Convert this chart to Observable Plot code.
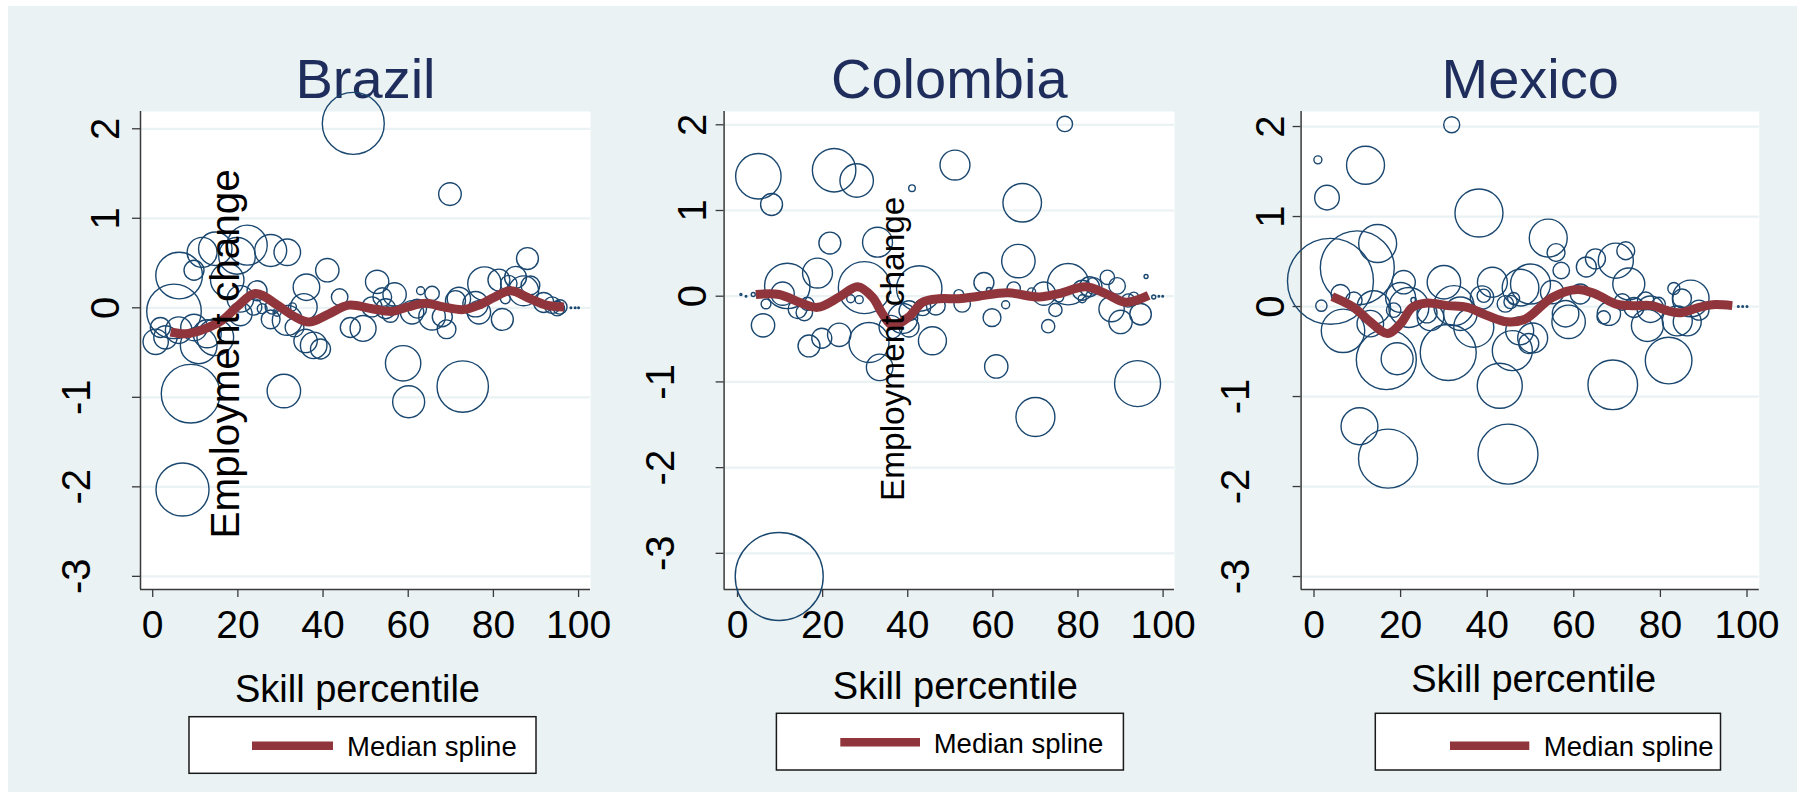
<!DOCTYPE html>
<html>
<head>
<meta charset="utf-8">
<script src="https://cdn.jsdelivr.net/npm/d3@7"></script>
<script src="https://cdn.jsdelivr.net/npm/@observablehq/plot@0.6"></script>
<style>
  html, body { margin: 0; padding: 0; background: #ffffff; }
  #root { position: relative; width: 1803px; height: 796px; overflow: hidden; background: #ffffff; font-family: "Liberation Sans", Arial, sans-serif; }
  #bg { position: absolute; left: 8px; top: 6px; width: 1789px; height: 786px; background: #EAF2F3; }
  .panel { position: absolute; }
  .legend { position: absolute; left: 0; top: 0; overflow: visible; }
</style>
</head>
<body>
<div id="root"><div id="bg"></div></div>
<script>
// ---------------- data ----------------
const countries = ["Brazil", "Colombia", "Mexico"];
const xTicks = [0, 20, 40, 60, 80, 100];
const yTicks = [-3, -2, -1, 0, 1, 2];
const xTitle = "Skill percentile";
const yTitle = "Employment change";
const legendLabel = "Median spline";

// Brazil occupations: skill percentile, employment change, employment weight
const brazilSkill = [47.1, 69.8, 88.0, 58.8, 60.1, 72.8, 8.9, 30.8, 7.0, 6.2, 5.0, 11.6, 14.7, 9.7, 22.2, 19.8, 27.7, 31.6, 17.5, 20.6, 24.5, 1.8, 0.7, 3.0, 6.1, 9.7, 12.8, 10.8, 14.7, 20.6, 23.7, 28.1, 27.7, 32.8, 31.6, 33.3, 36.1, 41.0, 43.9, 35.5, 46.4, 37.8, 39.4, 35.9, 25.7, 29.2, 49.4, 52.7, 53.9, 56.8, 54.7, 51.5, 55.8, 60.9, 62.1, 62.9, 65.6, 68.0, 69.0, 71.9, 71.1, 75.8, 76.6, 77.9, 81.3, 82.1, 85.2, 83.6, 87.1, 88.7, 82.8, 91.8, 93.8, 95.6, 95.0, 65.6, 98.2, 99.2, 100];
const brazilChange = [2.06, 1.27, 0.55, -0.62, -1.05, -0.88, -0.96, -0.93, -2.03, 0.36, -0.04, 0.62, 0.66, 0.42, 0.70, 0.58, 0.64, 0.62, 0.31, 0.10, 0.19, -0.22, -0.38, -0.33, -0.25, -0.22, -0.29, -0.42, -0.33, -0.07, 0.01, 0.01, -0.13, 0.01, -0.14, -0.22, 0.23, 0.42, 0.12, 0.01, -0.22, -0.42, -0.46, -0.37, -0.01, -0.05, -0.23, 0.29, 0.12, 0.15, -0.01, 0.01, -0.07, -0.05, -0.01, 0.19, 0.16, -0.10, -0.24, 0.10, 0.08, 0.04, -0.05, 0.27, 0.31, -0.13, 0.34, 0.27, 0.19, 0.25, 0.10, 0.06, 0.03, 0.01, -0.01, -0.10, 0, 0, 0];
const brazilWeight = [240, 32, 30, 78, 64, 165, 215, 70, 176, 136, 186, 56, 70, 25, 100, 84, 64, 44, 70, 44, 25, 25, 40, 34, 44, 44, 49, 84, 84, 34, 17, 13, 22, 4, 56, 22, 44, 34, 17, 44, 25, 44, 25, 34, 6, 4, 42, 34, 22, 34, 25, 25, 17, 34, 22, 4, 13, 25, 22, 34, 25, 40, 34, 70, 30, 30, 30, 17, 56, 22, 6, 25, 17, 13, 13, 44, 0.16, 0.16, 0.16];
const brazilSplineX = [4.2, 7.9, 12, 16.3, 20, 24.1, 29.3, 33, 36.7, 41.3, 46.0, 51.5, 56.2, 59.9, 64.1, 68.3, 72.9, 76.6, 80.3, 84.0, 88.7, 92.4, 96.6];
const brazilSplineY = [-0.27, -0.29, -0.24, -0.14, 0.02, 0.16, 0.03, -0.09, -0.16, -0.07, 0.03, -0.01, -0.04, 0.01, 0.05, 0.01, -0.02, 0.03, 0.12, 0.19, 0.10, 0.03, 0.01];

// Colombia
const colombiaSkill = [4.9, 8.0, 22.7, 28.0, 41.0, 51.1, 21.7, 32.9, 11.7, 18.8, 10.6, 29.8, 42.7, 6.0, 16.8, 19.8, 23.9, 30.9, 33.4, 14.1, 15.7, 16.4, 6.7, 26.6, 28.6, 0.8, 2.0, 3.7, 38.8, 40.3, 36.0, 45.8, 46.6, 40.3, 43.5, 9.8, 70.0, 94.0, 60.8, 66.9, 66.0, 76.9, 57.9, 52.0, 52.8, 55.0, 59.1, 59.8, 63.0, 64.9, 69.1, 72.0, 74.7, 73.0, 75.5, 77.7, 81.0, 82.7, 83.7, 81.0, 86.9, 89.2, 87.9, 90.0, 94.7, 91.8, 93.1, 96.0, 97.8, 99.0, 99.9];
const colombiaChange = [1.40, 1.07, 1.47, 1.35, 1.26, 1.53, 0.62, 0.63, 0.12, 0.27, 0.03, 0.10, 0.09, -0.34, -0.58, -0.49, -0.45, -0.54, -0.83, -0.15, -0.19, -0.09, -0.09, -0.03, -0.04, 0.02, 0.0, 0.02, -0.26, -0.36, -0.36, -0.52, -0.11, -0.17, -0.13, -3.27, -1.41, -1.02, -0.82, 1.09, 0.41, 2.01, 0.16, 0.02, -0.09, 0.0, 0.07, -0.25, -0.10, 0.09, 0.05, 0.03, -0.16, -0.35, -0.01, 0.14, 0.07, 0.11, 0.12, -0.03, 0.22, 0.12, -0.15, -0.30, -0.21, -0.05, -0.01, 0.23, -0.01, 0, 0];
const colombiaWeight = [129, 30, 118, 70, 2.7, 56, 30, 56, 129, 56, 34, 169, 129, 34, 30, 25, 34, 100, 44, 22, 17, 11, 6, 4, 4, 0.25, 0.16, 1, 56, 25, 34, 49, 22, 25, 17, 484, 95, 132, 34, 93, 70, 15, 25, 6, 17, 1, 1.8, 20, 4, 11, 4, 34, 11, 11, 6, 107, 25, 25, 17, 4, 13, 17, 40, 34, 29, 11, 6, 1, 1, 0.16, 0.16];
const colombiaSplineX = [4.3, 9.8, 14.5, 18.8, 23.9, 28.2, 31.7, 34.0, 36.4, 40.3, 43.5, 47.4, 52.0, 56.7, 63.4, 70.8, 75.5, 81.8, 86.5, 91.2, 96.6];
const colombiaSplineY = [0.02, 0.02, -0.07, -0.13, -0.01, 0.11, -0.01, -0.20, -0.34, -0.24, -0.07, -0.03, -0.03, 0.0, 0.04, -0.01, 0.03, 0.11, 0.03, -0.07, 0.01];

// Mexico
const mexicoSkill = [0.9, 11.9, 3.0, 38.1, 31.8, 3.8, 10.0, 14.7, 1.7, 6.7, 6.1, 9.2, 13.8, 13.0, 16.7, 19.2, 20.7, 20.0, 18.4, 23.0, 21.9, 26.1, 26.9, 30.0, 31.0, 32.3, 33.8, 38.8, 41.2, 36.9, 42.9, 45.4, 45.8, 47.7, 10.5, 17.1, 44.8, 69.0, 39.2, 44.2, 46.1, 49.6, 54.1, 55.9, 57.1, 50.0, 55.0, 62.9, 65.0, 69.7, 72.0, 72.7, 61.5, 58.8, 58.1, 68.1, 66.9, 71.2, 73.9, 76.6, 77.0, 77.7, 79.6, 81.9, 83.1, 85.0, 87.0, 83.9, 86.2, 88.9, 50.5, 47.5, 98.0, 99.0, 100];
const mexicoChange = [1.63, 1.57, 1.21, 1.04, 2.02, 0.28, 0.43, 0.70, 0.01, -0.27, 0.14, 0.07, -0.01, -0.19, -0.59, -0.58, 0.27, 0.10, -0.04, 0.07, -0.01, -0.07, -0.12, 0.27, -0.51, 0.01, -0.08, 0.10, 0.27, -0.23, -0.88, 0.05, -0.49, 0.21, -1.33, -1.69, -1.64, -0.87, 0.12, 0.03, 0.09, -0.41, 0.76, 0.60, 0.40, 0.25, 0.16, 0.44, 0.53, 0.51, 0.62, 0.25, 0.14, -0.17, -0.08, -0.08, -0.12, 0.05, -0.01, 0.07, -0.21, -0.03, 0.03, -0.60, 0.20, 0.09, 0.09, -0.16, -0.17, -0.04, -0.35, -0.27, 0, 0, 0];
const mexicoWeight = [4, 90, 38, 144, 16, 462, 342, 90, 8, 118, 22, 17, 70, 44, 225, 64, 34, 56, 13, 1.8, 100, 25, 44, 70, 196, 100, 70, 34, 56, 100, 127, 11, 100, 84, 85, 218, 225, 154, 11, 17, 9, 25, 90, 20, 17, 100, 34, 25, 25, 77, 20, 64, 25, 70, 44, 34, 11, 17, 25, 17, 64, 44, 11, 136, 9, 22, 84, 56, 49, 25, 56, 49, 0.16, 0.16, 0.16];
const mexicoSplineX = [4.2, 9.2, 13.0, 17.0, 20.0, 22.7, 26.1, 30.8, 35.4, 40.0, 44.6, 48.8, 55.0, 60.8, 65.0, 69.6, 73.5, 78.1, 81.2, 84.3, 88.9, 92.0, 96.6];
const mexicoSplineY = [0.11, -0.01, -0.17, -0.30, -0.19, -0.01, 0.04, 0.01, -0.01, -0.10, -0.17, -0.14, 0.10, 0.19, 0.14, 0.03, 0.01, 0.01, -0.04, -0.07, -0.01, 0.02, 0.01];

// ---------------- styling ----------------
const BG = "#EAF2F3", NAVY = "#1A476F", MAROON = "#90353B", TITLE = "#1E2D5C", AXIS = "#3a3a3a";
const FONT = '"Liberation Sans", Arial, sans-serif';

const panels = [
  { name: countries[0], skill: brazilSkill, change: brazilChange, weight: brazilWeight, sx: brazilSplineX, sy: brazilSplineY,
    left: 20, width: 600, mL: 120, mR: 30, xDom: [-2.865, 102.8], yDom: [-3.147, 2.193],
    posDx: -21.4, negDx: -51, xlabDx: -8, xlabDy: 112.7, ytitle: { dx: 98, dy: 3.3, size: 40.5 },
    legend: { x: 189, y: 716.7, w: 347, h: 56.6, l1: 252, l2: 333, ly: 745.7, tx: 347, ty: 755.7 } },
  { name: countries[1], skill: colombiaSkill, change: colombiaChange, weight: colombiaWeight, sx: colombiaSplineX, sy: colombiaSplineY,
    left: 610, width: 590, mL: 113.6, mR: 26, xDom: [-3.15, 102.68], yDom: [-3.422, 2.155],
    posDx: -18.6, negDx: -50, xlabDx: 6, xlabDy: 109.3, ytitle: { dx: 180, dy: -1.7, size: 33.4 },
    legend: { x: 776.4, y: 713.3, w: 347, h: 56.7, l1: 840.3, l2: 920, ly: 742.3, tx: 933.7, ty: 752.7 } },
  { name: countries[2], skill: mexicoSkill, change: mexicoChange, weight: mexicoWeight, sx: mexicoSplineX, sy: mexicoSplineY,
    left: 1190, width: 600, mL: 110.6, mR: 31.2, xDom: [-2.98, 102.84], yDom: [-3.144, 2.167],
    posDx: -16.8, negDx: -52, xlabDx: 3.5, xlabDy: 102.7, ytitle: null,
    legend: { x: 1375.3, y: 713.3, w: 345.2, h: 56.7, l1: 1450, l2: 1529.3, ly: 745.7, tx: 1543.8, ty: 755.7 } }
];

const SVG_TOP = 40, SVG_H = 670, M_TOP = 71, M_BOTTOM = 121;
const root = document.getElementById("root");

for (const p of panels) {
  const pts = p.skill.map((x, i) => ({ x, y: p.change[i], w: p.weight[i] }));
  const spline = p.sx.map((x, i) => ({ x, y: p.sy[i] }));
  const marks = [
    Plot.frame({ fill: "white", stroke: null }),
    Plot.gridY(yTicks, { stroke: BG, strokeOpacity: 1, strokeWidth: 2.2 }),
    Plot.text([p.name], { frameAnchor: "top", lineAnchor: "bottom", dy: -14, fontSize: 56, fill: TITLE }),
    Plot.ruleX([p.xDom[0]], { stroke: AXIS, strokeWidth: 1.5 }),
    Plot.ruleY([p.yDom[0]], { stroke: AXIS, strokeWidth: 1.5 }),
    Plot.axisX({ ticks: xTicks, tickSize: 8, tickPadding: 13, fontSize: 39, fill: "black", stroke: AXIS, strokeWidth: 1.3, label: null }),
    Plot.axisY({ ticks: yTicks, tickSize: 8, tickFormat: () => "", stroke: AXIS, strokeWidth: 1.3, label: null }),
    Plot.text(yTicks.filter(t => t >= 0), { y: d => d, text: d => String(d), frameAnchor: "left", rotate: -90, textAnchor: "middle", lineAnchor: "bottom", dx: p.posDx, fontSize: 40, fill: "black" }),
    Plot.text(yTicks.filter(t => t < 0), { y: d => d, text: d => "-" + Math.abs(d), frameAnchor: "left", rotate: -90, textAnchor: "middle", lineAnchor: "bottom", dx: p.negDx, fontSize: 40, fill: "black" }),
    Plot.text([xTitle], { frameAnchor: "bottom", lineAnchor: "bottom", dx: p.xlabDx, dy: p.xlabDy, fontSize: 38, fill: "black" }),
    Plot.dot(pts, { x: "x", y: "y", r: "w", stroke: NAVY, strokeWidth: 1.4, fill: "none" }),
    Plot.line(spline, { x: "x", y: "y", stroke: MAROON, strokeWidth: 9, curve: "catmull-rom", strokeLinecap: "butt", strokeLinejoin: "round" })
  ];
  if (p.ytitle) {
    marks.push(Plot.text([yTitle], { frameAnchor: "left", rotate: -90, textAnchor: "middle", lineAnchor: "bottom", dx: p.ytitle.dx, dy: p.ytitle.dy, fontSize: p.ytitle.size, fill: "black" }));
  }
  const chart = Plot.plot({
    width: p.width, height: SVG_H,
    marginLeft: p.mL, marginRight: p.mR, marginTop: M_TOP, marginBottom: M_BOTTOM,
    x: { domain: p.xDom, axis: null },
    y: { domain: p.yDom, axis: null },
    r: { type: "sqrt", domain: [0, 400], range: [0, 40] },
    style: { background: "transparent", overflow: "visible", fontFamily: FONT, maxWidth: "none" },
    marks
  });
  chart.classList.add("panel");
  chart.style.left = p.left + "px";
  chart.style.top = SVG_TOP + "px";
  chart.style.position = "absolute";
  root.appendChild(chart);

  // legend box (below the plot)
  const L = p.legend;
  const ns = "http://www.w3.org/2000/svg";
  const svg = document.createElementNS(ns, "svg");
  svg.setAttribute("class", "legend");
  svg.setAttribute("width", 1803);
  svg.setAttribute("height", 796);
  svg.style.position = "absolute";
  const rect = document.createElementNS(ns, "rect");
  rect.setAttribute("x", L.x); rect.setAttribute("y", L.y);
  rect.setAttribute("width", L.w); rect.setAttribute("height", L.h);
  rect.setAttribute("fill", "white"); rect.setAttribute("stroke", "#1a1a1a"); rect.setAttribute("stroke-width", 1.5);
  svg.appendChild(rect);
  const line = document.createElementNS(ns, "line");
  line.setAttribute("x1", L.l1); line.setAttribute("x2", L.l2);
  line.setAttribute("y1", L.ly); line.setAttribute("y2", L.ly);
  line.setAttribute("stroke", MAROON); line.setAttribute("stroke-width", 8.5);
  svg.appendChild(line);
  const txt = document.createElementNS(ns, "text");
  txt.setAttribute("x", L.tx); txt.setAttribute("y", L.ty);
  txt.setAttribute("font-family", FONT); txt.setAttribute("font-size", 27.5); txt.setAttribute("fill", "black");
  txt.textContent = legendLabel;
  svg.appendChild(txt);
  root.appendChild(svg);
}
</script>
</body>
</html>
